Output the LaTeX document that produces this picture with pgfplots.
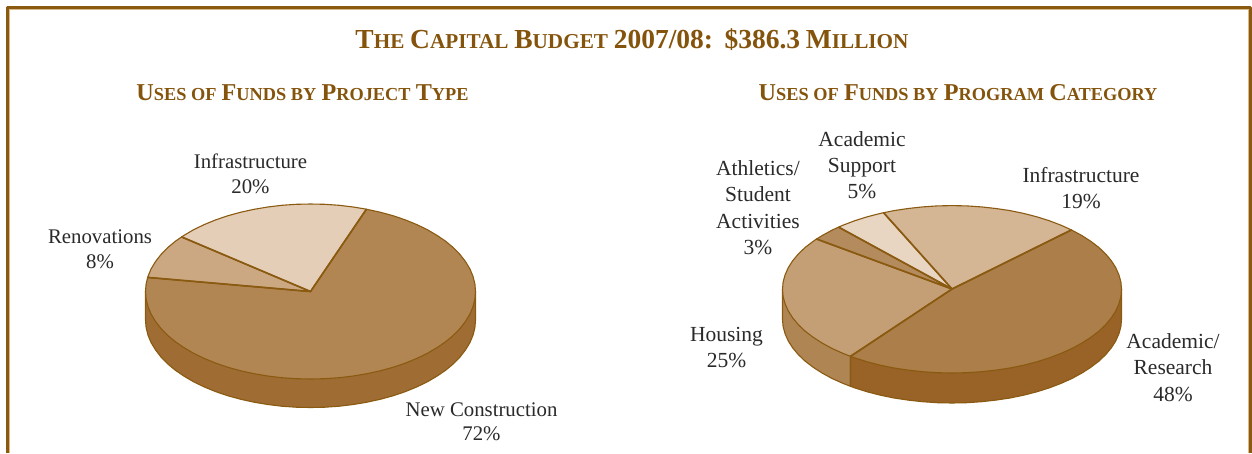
\documentclass[border=0pt]{standalone}
\usepackage{pgfplots}
\pgfplotsset{compat=1.18}
\usepackage{fontspec}
\setmainfont{Liberation Serif}
\definecolor{edge}{HTML}{8A5A10}
\definecolor{head}{HTML}{85540C}
\definecolor{ink}{HTML}{2A2A2A}
\definecolor{frameshade}{HTML}{D9B98C}
\definecolor{lnew}{HTML}{B28653}
\definecolor{lren}{HTML}{CBA882}
\definecolor{linf}{HTML}{E5CEB7}
\definecolor{lrim}{HTML}{9F6C33}
\definecolor{raca}{HTML}{AB7E4A}
\definecolor{rinf}{HTML}{D4B594}
\definecolor{rsup}{HTML}{E8D5C2}
\definecolor{rath}{HTML}{B38B5C}
\definecolor{rhou}{HTML}{C49F75}
\definecolor{rrima}{HTML}{996226}
\definecolor{rrimh}{HTML}{B08554}
\newcommand{\Tc}[1]{{\fontsize{27.5}{27.5}\selectfont #1}}
\newcommand{\Ts}[1]{{\fontsize{21.2}{21.2}\selectfont #1}}
\newcommand{\Hc}[1]{{\fontsize{24.2}{24.2}\selectfont #1}}
\newcommand{\Hs}[1]{{\fontsize{18.3}{18.3}\selectfont #1}}
\newcommand{\lab}[3]{\node[anchor=base,inner sep=0pt,text=ink,font=\fontsize{20.8}{20.8}\selectfont] at (axis cs:#1,#2) {#3};}
\newcommand{\labr}[3]{\node[anchor=base,inner sep=0pt,text=ink,font=\fontsize{21.5}{21.5}\selectfont] at (axis cs:#1,#2) {#3};}
\begin{document}
\begin{tikzpicture}
\begin{axis}[
  scale only axis, width=1252pt, height=453pt,
  xmin=0, xmax=1252, ymin=0, ymax=453, y dir=reverse,
  hide axis, clip=true,
  every axis plot/.append style={line join=round, draw=edge, line width=1.1pt},
]
% page background, keeps the full picture size
\addplot[fill=white, draw=none] coordinates {(0,0) (1252,0) (1252,453) (0,453)} -- cycle;
% frame, open at the bottom
\addplot[fill=none, draw=frameshade, line width=1.5pt] coordinates {(8.8,453) (8.8,9.4) (1249.2,9.4) (1249.2,453)};
\addplot[fill=none, draw=edge, line width=2.4pt] coordinates {(7.4,453) (7.4,7.6) (1250.6,7.6) (1250.6,453)};

% left pie: rim
\addplot[fill=lrim] coordinates {(145.5,291.5) (145.5,320) (146.1,327.6) (148,335.2) (151.1,342.6) (155.5,349.9) (161,357) (167.6,363.8) (175.3,370.2) (184.1,376.2) (193.8,381.9) (204.4,387) (215.9,391.7) (228,395.8) (240.8,399.3) (254.1,402.2) (267.8,404.5) (281.8,406.2) (296.1,407.2) (310.5,407.5) (324.9,407.2) (339.2,406.2) (353.2,404.5) (366.9,402.2) (380.2,399.3) (393,395.8) (405.1,391.7) (416.6,387) (427.2,381.9) (436.9,376.2) (445.7,370.2) (453.4,363.8) (460,357) (465.5,349.9) (469.9,342.6) (473,335.2) (474.9,327.6) (475.5,320) (475.5,291.5)} -- cycle;
% left pie: New Construction 72%
\addplot[fill=lnew] coordinates {(310.5,291.5) (366.4,209.2) (380.2,212.2) (393,215.7) (405.1,219.8) (416.6,224.5) (427.2,229.6) (436.9,235.3) (445.7,241.3) (453.4,247.7) (460,254.5) (465.5,261.6) (469.9,268.9) (473,276.3) (474.9,283.9) (475.5,291.5) (474.9,299.1) (473,306.7) (469.9,314.1) (465.5,321.4) (460,328.5) (453.4,335.3) (445.7,341.7) (436.9,347.7) (427.2,353.4) (416.6,358.5) (405.1,363.2) (393,367.3) (380.2,370.8) (366.9,373.7) (353.2,376) (339.2,377.7) (324.9,378.7) (310.5,379) (296.1,378.7) (281.8,377.7) (267.8,376) (254.1,373.7) (240.8,370.8) (228,367.3) (215.9,363.2) (204.4,358.5) (193.8,353.4) (184.1,347.7) (175.3,341.7) (167.6,335.3) (161,328.5) (155.5,321.4) (151.1,314.1) (148,306.7) (146.1,299.1) (145.5,291.5) (146.1,283.9) (147.7,277.4)} -- cycle;
% left pie: Renovations 8%
\addplot[fill=lren] coordinates {(310.5,291.5) (147.7,277.4) (148,276.3) (151.1,268.9) (155.5,261.6) (161,254.5) (167.6,247.7) (175.3,241.3) (181.6,236.9)} -- cycle;
% left pie: Infrastructure 20%
\addplot[fill=linf] coordinates {(310.5,291.5) (181.6,236.9) (184.1,235.3) (193.8,229.6) (204.4,224.5) (215.9,219.8) (228,215.7) (240.8,212.2) (254.1,209.3) (267.8,207) (281.8,205.3) (296.1,204.3) (310.5,204) (324.9,204.3) (339.2,205.3) (353.2,207) (366.4,209.2)} -- cycle;
% left pie: spokes, heavier than the outline
\addplot[fill=none, line width=1.7pt] coordinates {(366.4,209.2) (310.5,291.5) (147.7,277.4)};
\addplot[fill=none, line width=1.7pt] coordinates {(181.6,236.9) (310.5,291.5)};

% right pie: rims
\addplot[fill=rrimh] coordinates {(782.5,289.3) (782.5,319.3) (783.1,326.6) (785.1,333.8) (788.3,341) (792.7,347.9) (798.4,354.7) (805.2,361.2) (813.2,367.3) (822.2,373.1) (832.1,378.5) (843,383.4) (850.5,386.3) (850.5,356.3)} -- cycle;
\addplot[fill=rrima] coordinates {(850.5,356.3) (850.5,386.3) (854.8,387.9) (867.2,391.8) (880.4,395.2) (894,398) (908.1,400.1) (922.6,401.7) (937.2,402.7) (952,403) (966.8,402.7) (981.4,401.7) (995.9,400.1) (1010,398) (1023.6,395.2) (1036.8,391.8) (1049.2,387.9) (1061,383.4) (1071.9,378.5) (1081.8,373.1) (1090.8,367.3) (1098.8,361.2) (1105.6,354.7) (1111.3,347.9) (1115.7,341) (1118.9,333.8) (1120.9,326.6) (1121.5,319.3) (1121.5,289.3)} -- cycle;
% right pie: Academic/Research 48%
\addplot[fill=raca] coordinates {(952,289) (850.5,356.3) (854.8,357.9) (867.2,361.8) (880.4,365.2) (894,368) (908.1,370.1) (922.6,371.7) (937.2,372.7) (952,373) (966.8,372.7) (981.4,371.7) (995.9,370.1) (1010,368) (1023.6,365.2) (1036.8,361.8) (1049.2,357.9) (1061,353.4) (1071.9,348.5) (1081.8,343.1) (1090.8,337.3) (1098.8,331.2) (1105.6,324.7) (1111.3,317.9) (1115.7,311) (1118.9,303.8) (1120.9,296.6) (1121.5,289.3) (1120.9,282) (1118.9,274.8) (1115.7,267.6) (1111.3,260.7) (1105.6,253.9) (1098.8,247.4) (1090.8,241.3) (1081.8,235.5) (1071.4,229.9)} -- cycle;
% right pie: Housing 25%
\addplot[fill=rhou] coordinates {(952,289) (816.5,239) (813.2,241.3) (805.2,247.4) (798.4,253.9) (792.7,260.7) (788.3,267.6) (785.1,274.8) (783.1,282) (782.5,289.3) (783.1,296.6) (785.1,303.8) (788.3,311) (792.7,317.9) (798.4,324.7) (805.2,331.2) (813.2,337.3) (822.2,343.1) (832.1,348.5) (843,353.4) (850.5,356.3)} -- cycle;
% right pie: Athletics/Student Activities 3%
\addplot[fill=rath] coordinates {(952,289) (838.6,227.1) (832.1,230.1) (822.2,235.5) (816.5,239)} -- cycle;
% right pie: Academic Support 5%
\addplot[fill=rsup] coordinates {(952,289) (883.6,212.7) (880.4,213.4) (867.2,216.8) (854.8,220.7) (843,225.2) (838.6,227.1)} -- cycle;
% right pie: Infrastructure 19%
\addplot[fill=rinf] coordinates {(952,289) (1071.4,229.9) (1061,225.2) (1049.2,220.7) (1036.8,216.8) (1023.6,213.4) (1010,210.6) (995.9,208.5) (981.4,206.9) (966.8,205.9) (952,205.6) (937.2,205.9) (922.6,206.9) (908.1,208.5) (894,210.6) (883.6,212.7)} -- cycle;
% right pie: spokes, heavier than the outline
\addplot[fill=none, line width=1.7pt] coordinates {(1071.4,229.9) (952,289) (850.5,356.3)};
\addplot[fill=none, line width=1.7pt] coordinates {(816.5,239) (952,289) (838.6,227.1)};
\addplot[fill=none, line width=1.7pt] coordinates {(883.6,212.7) (952,289)};

% headings
\node[anchor=base,inner sep=0pt,text=head,font=\fontsize{23}{23}\selectfont\bfseries] at (axis cs:632,48) {\Tc{T}\Ts{HE} \Tc{C}\Ts{APITAL} \Tc{B}\Ts{UDGET} \Tc{2007/08:}\hspace{0.5em}\Tc{\$386.3} \Tc{M}\Ts{ILLION}};
\node[anchor=base,inner sep=0pt,text=head,font=\fontsize{21}{21}\selectfont\bfseries] at (axis cs:302.5,100) {\Hc{U}\Hs{SES OF} \Hc{F}\Hs{UNDS BY} \Hc{P}\Hs{ROJECT} \Hc{T}\Hs{YPE}};
\node[anchor=base,inner sep=0pt,text=head,font=\fontsize{21}{21}\selectfont\bfseries] at (axis cs:958,100) {\Hc{U}\Hs{SES OF} \Hc{F}\Hs{UNDS BY} \Hc{P}\Hs{ROGRAM} \Hc{C}\Hs{ATEGORY}};

% slice labels
\lab{250.5}{168}{Infrastructure}
\lab{250.5}{193}{20\%}
\lab{100}{243}{Renovations}
\lab{100}{268}{8\%}
\lab{481.5}{416}{New Construction}
\lab{481.5}{440}{72\%}
\labr{862}{146}{Academic}
\labr{862}{172}{Support}
\labr{862}{198}{5\%}
\labr{758}{175}{Athletics/}
\labr{758}{201.5}{Student}
\labr{758}{228}{Activities}
\labr{758}{254}{3\%}
\labr{1081}{182}{Infrastructure}
\labr{1081}{208}{19\%}
\labr{726.5}{341}{Housing}
\labr{726.5}{367}{25\%}
\labr{1173}{348}{Academic/}
\labr{1173}{374.5}{Research}
\labr{1173}{401}{48\%}
\end{axis}
\end{tikzpicture}
\end{document}
